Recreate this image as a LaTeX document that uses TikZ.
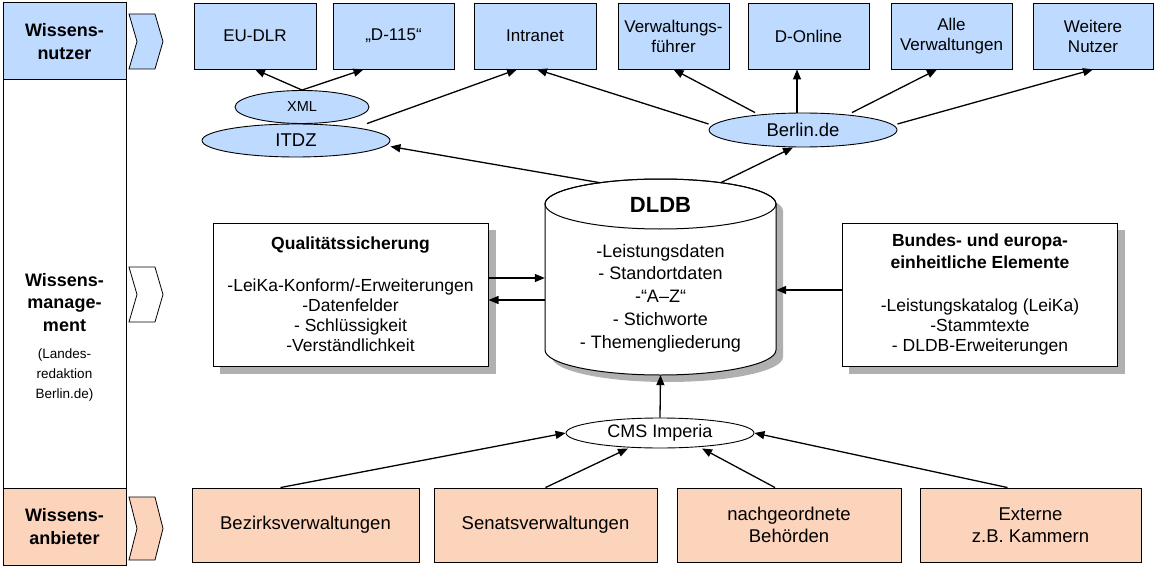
\documentclass[tikz,border=0pt]{standalone}
\usepackage{fontspec}
\setmainfont{Liberation Sans}
\usetikzlibrary{arrows.meta,backgrounds,shapes.geometric}
\definecolor{kblue}{RGB}{190,218,255}
\definecolor{korange}{RGB}{252,212,188}
\definecolor{kshadow}{RGB}{176,176,176}
\begin{document}
\begin{tikzpicture}[x=1pt,y=-1pt,
  every node/.style={inner sep=0pt, align=center},
  colbox/.style={draw, line width=1pt, minimum width=123pt},
  topbox/.style={draw, line width=0.9pt, fill=kblue, minimum height=66pt, font=\fontsize{17}{20}\selectfont},
  botbox/.style={draw, line width=0.9pt, fill=korange, minimum height=74pt, font=\fontsize{18.5}{22}\selectfont},
  infobox/.style={draw, line width=1pt, fill=white, minimum width=275pt, minimum height=143pt, font=\fontsize{17.5}{20}\selectfont},
  ell/.style={draw, line width=0.9pt, ellipse},
  chev/.style={draw, line width=0.8pt},
  arr/.style={-{Triangle[length=10pt,width=8pt]}, line width=1.3pt},
  collabel/.style={font=\bfseries\fontsize{18}{22.5}\selectfont}
]
\useasboundingbox (0,0) rectangle (1156,567);

% left column
\node[colbox, fill=kblue, minimum height=77pt, collabel] (colnutzer) at (64.5,41.5) {Wissens-\\nutzer};
\node[colbox, fill=white, minimum height=408pt] (colmgmt) at (64.5,284) {};
\node[colbox, fill=korange, minimum height=77pt, collabel] (colanbieter) at (64.5,526.5) {Wissens-\\anbieter};
\node[collabel, anchor=north] (lblmgmt) at (64.5,273) {Wissens-\\manage-\\ment};
\node[font=\fontsize{13.5}{20}\selectfont, anchor=north] (lbllandes) at (64.5,349) {(Landes-\\redaktion\\Berlin.de)};

% chevrons
\draw[chev, fill=kblue] (129,14) -- (155,14) -- (163,41.5) -- (155,69) -- (129,69) -- (137,41.5) -- cycle;
\draw[chev, fill=white] (129,267) -- (155,267) -- (163,294.5) -- (155,322) -- (129,322) -- (137,294.5) -- cycle;
\draw[chev, fill=korange] (129,497) -- (155,497) -- (163,528.5) -- (155,560) -- (129,560) -- (137,528.5) -- cycle;

% top row
\node[topbox, minimum width=122pt] (eudlr) at (255,36) {EU-DLR};
\node[topbox, minimum width=121pt] (dhundert) at (393.5,36) {„D-115“};
\node[topbox, minimum width=122pt] (intranet) at (535,36) {Intranet};
\node[topbox, minimum width=111pt] (verw) at (673.5,36) {Verwaltungs-\\führer};
\node[topbox, minimum width=121pt] (donline) at (808.5,36) {D-Online};
\node[topbox, minimum width=121pt] (alle) at (951.5,36) {Alle\\Verwaltungen};
\node[topbox, minimum width=120pt] (weitere) at (1093,36) {Weitere\\Nutzer};

% ellipses
\node[ell, fill=kblue, minimum width=134pt, minimum height=33pt, font=\fontsize{14.5}{17}\selectfont] (xml) at (302,107) {XML};
\node[ell, fill=kblue, minimum width=188pt, minimum height=33pt, font=\fontsize{18.5}{22}\selectfont] (itdz) at (296,140.5) {ITDZ};
\node[ell, fill=kblue, minimum width=188pt, minimum height=34pt, font=\fontsize{18.5}{22}\selectfont] (berlin) at (803,130) {Berlin.de};

% info boxes with shadows
\node[infobox] (qual) at (350.5,294.5) {\textbf{Qualitätssicherung}\\[22pt]-LeiKa-Konform/-Erweiterungen\\-Datenfelder\\- Schlüssigkeit\\-Verständlichkeit};
\node[infobox] (bundes) at (980,294.5) {\textbf{Bundes- und europa-}\\[2pt]\textbf{einheitliche Elemente}\\[23pt]-Leistungskatalog (LeiKa)\\-Stammtexte\\- DLDB-Erweiterungen};
\begin{scope}[on background layer]
\fill[kshadow] ([xshift=7pt,yshift=-7pt]qual.south west) rectangle ([xshift=7pt,yshift=-7pt]qual.north east);
\fill[kshadow] ([xshift=7pt,yshift=-7pt]bundes.south west) rectangle ([xshift=7pt,yshift=-7pt]bundes.north east);
\end{scope}

% DLDB cylinder
\fill[kshadow] (552,211) -- (552,357) arc[start angle=180,end angle=360,x radius=115.5pt,y radius=25pt] -- (783,211) arc[start angle=0,end angle=180,x radius=115.5pt,y radius=25pt] -- cycle;
\draw[line width=1pt, fill=white] (545,204) -- (545,350) arc[start angle=180,end angle=360,x radius=115.5pt,y radius=25pt] -- (776,204) arc[start angle=0,end angle=180,x radius=115.5pt,y radius=25pt] -- cycle;
\draw[line width=1pt] (660.5,204) ellipse[x radius=115.5pt, y radius=25pt];
\node[minimum width=231pt, minimum height=196pt] (dldb) at (660.5,277) {};
\node[font=\bfseries\fontsize{22}{26}\selectfont] (dldbtitle) at (660.5,205) {DLDB};
\node[font=\fontsize{18}{22.75}\selectfont] (dldblist) at (660.5,298) {-Leistungsdaten\\- Standortdaten\\-“A–Z“\\- Stichworte\\- Themengliederung};

% CMS
\node[ell, fill=white, minimum width=188pt, minimum height=30pt, font=\fontsize{18}{22}\selectfont] (cms) at (660,433) {CMS Imperia};

% bottom row
\node[botbox, minimum width=227pt] (bez) at (305.5,525) {Bezirksverwaltungen};
\node[botbox, minimum width=223pt] (sen) at (545.5,525) {Senatsverwaltungen};
\node[botbox, minimum width=224pt] (nach) at (789,525) {nachgeordnete\\Behörden};
\node[botbox, minimum width=221pt] (ext) at (1030.5,525) {Externe\\z.B. Kammern};

% connectors top
\draw[arr] (xml.north) -- (eudlr.south);
\draw[arr] (xml.north) -- ([xshift=-30pt]dhundert.south);
\draw[arr] ([xshift=71pt]itdz.north) -- ([xshift=-18pt]intranet.south);
\draw[arr] ([yshift=6pt]berlin.west) -- ([xshift=2pt]intranet.south);
\draw[arr] ([xshift=-48pt]berlin.north) -- (verw.south);
\draw[arr] ([xshift=-6pt]berlin.north) -- ([xshift=-11.5pt]donline.south);
\draw[arr] ([xshift=49pt]berlin.north) -- ([xshift=-14.5pt]alle.south);
\draw[arr] ([yshift=6pt]berlin.east) -- (weitere.south);
\draw[arr] ([xshift=-60pt,yshift=-4pt]dldb.north) -- ([yshift=-6pt]itdz.east);
\draw[arr] ([xshift=60pt,yshift=-4pt]dldb.north) -- ([xshift=-10pt]berlin.south);

% connectors middle
\draw[arr] ([yshift=16.5pt]qual.east) -- ([yshift=-1pt]dldb.west);
\draw[arr] ([yshift=-23pt]dldb.west) -- ([yshift=-5.5pt]qual.east);
\draw[arr] ([yshift=4.5pt]bundes.west) -- ([yshift=-13pt]dldb.east);

% connectors bottom
\draw[arr] (cms.north) -- (dldb.south);
\draw[arr] ([xshift=-25pt]bez.north) -- (cms.west);
\draw[arr] (sen.north) -- ([xshift=-32pt]cms.south);
\draw[arr] ([xshift=-14pt]nach.north) -- ([xshift=42pt]cms.south);
\draw[arr] ([xshift=-23pt]ext.north) -- (cms.east);
\end{tikzpicture}
\end{document}
